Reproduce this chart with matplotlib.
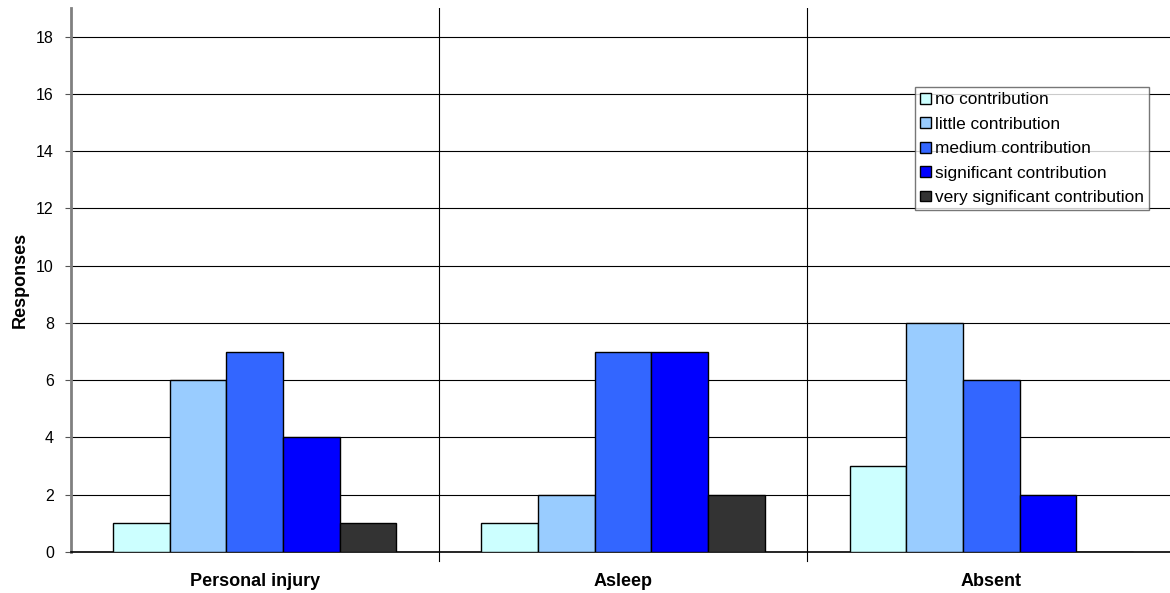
import matplotlib
matplotlib.use("Agg")
import matplotlib.pyplot as plt
import numpy as np

plt.rcParams['font.family'] = ['Liberation Sans', 'DejaVu Sans']

categories = ["Personal injury", "Asleep", "Absent"]
series_names = ["no contribution", "little contribution", "medium contribution",
                "significant contribution", "very significant contribution"]
no_contribution = [1, 1, 3]
little_contribution = [6, 2, 8]
medium_contribution = [7, 7, 6]
significant_contribution = [4, 7, 2]
very_significant_contribution = [1, 2, 0]
colors = ["#CCFFFF", "#99CCFF", "#3366FF", "#0000FF", "#333333"]
y_ticks = [0, 2, 4, 6, 8, 10, 12, 14, 16, 18]

series = [no_contribution, little_contribution, medium_contribution,
          significant_contribution, very_significant_contribution]

W, H = 1170, 593
fig = plt.figure(figsize=(W / 100, H / 100), dpi=100)
left, right, top, bottom = 70.5, 1175.5, 8, 552
ax = fig.add_axes([left / W, 1 - bottom / H, (right - left) / W, (bottom - top) / H])

n = len(series)
gap = 1.5
bw = 1.0 / (n + gap)
x = np.arange(len(categories))
for i, (vals, name, c) in enumerate(zip(series, series_names, colors)):
    offs = -0.5 + gap * bw / 2 + bw * i + bw / 2
    ax.bar(x + offs, vals, width=bw, color=c, edgecolor="black", linewidth=1.0,
           label=name, zorder=3)

ax.set_xlim(-0.5, len(categories) - 0.5)
ax.set_ylim(0, 19)
ax.set_yticks(y_ticks)
ax.set_yticklabels([str(t) for t in y_ticks], fontsize=11.5)
ax.set_xticks(x)
ax.set_xticklabels(categories, fontsize=13, fontweight="bold")
ax.tick_params(axis="x", length=0, pad=15)
ax.tick_params(axis="y", length=4, width=0.8, color="#555555", pad=8)

# horizontal gridlines and category separators
for t in y_ticks[1:]:
    ax.axhline(t, color="black", linewidth=0.8, zorder=1)
for b in np.arange(0.5, len(categories) - 0.5, 1.0):
    ax.axvline(b, color="black", linewidth=0.8, zorder=1)
    ax.plot([b, b], [0, -0.3], color="black", linewidth=0.8, clip_on=False)

for s in ["top", "right"]:
    ax.spines[s].set_visible(False)
ax.spines["left"].set_color("#808080")
ax.spines["left"].set_linewidth(2)
ax.spines["bottom"].set_color("black")
ax.spines["bottom"].set_linewidth(1.2)

ax.set_ylabel("Responses", fontsize=13, fontweight="bold", labelpad=5)

leg = ax.legend(loc="upper left", bbox_to_anchor=(915 / W, 1 - 87 / H),
                bbox_transform=fig.transFigure, fontsize=12.4, frameon=True,
                fancybox=False, handlelength=0.6, handleheight=0.6,
                handletextpad=0.25, labelspacing=0.55, borderpad=0.3,
                borderaxespad=0)
leg.get_frame().set_edgecolor("#555555")
leg.get_frame().set_linewidth(1.0)
leg.set_zorder(5)

fig.savefig("out.png", dpi=100)
